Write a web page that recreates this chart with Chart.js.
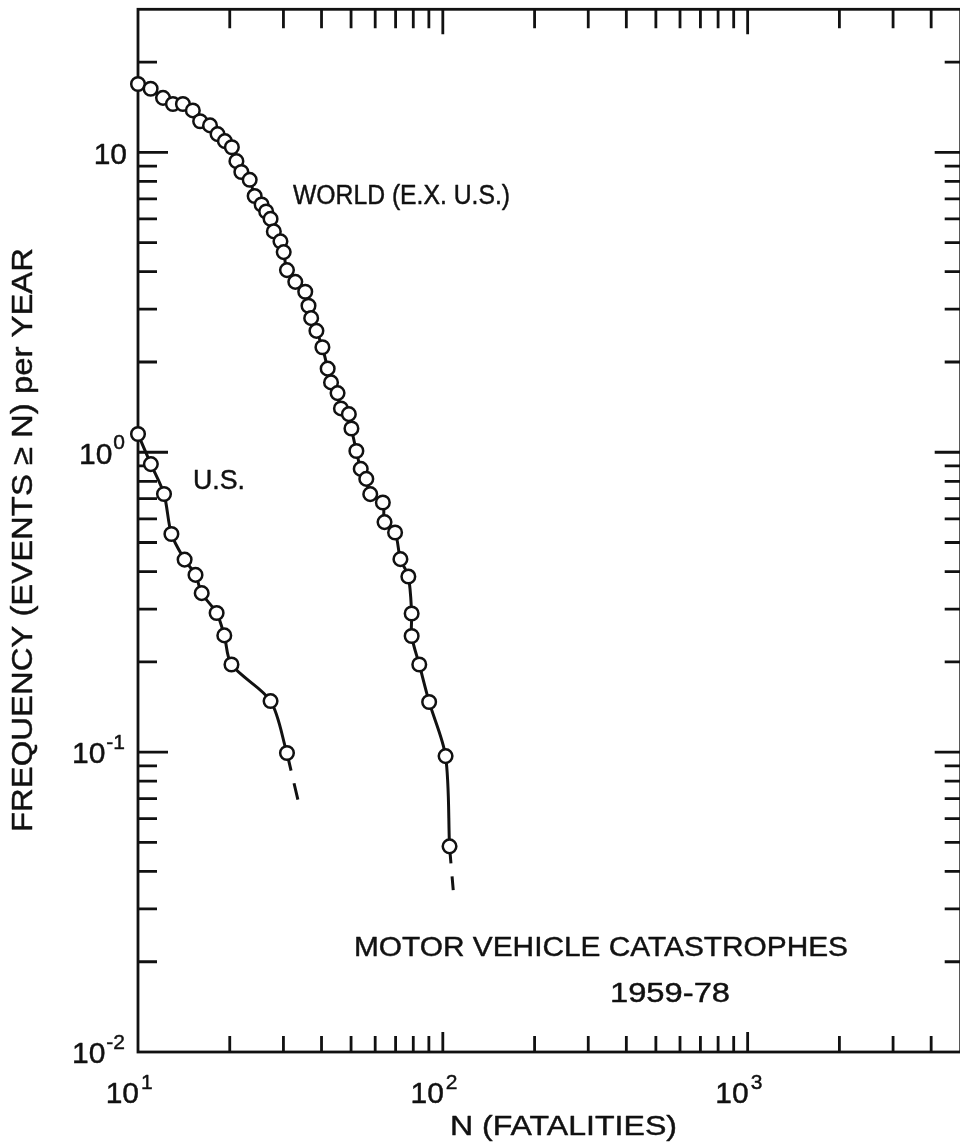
<!DOCTYPE html>
<html>
<head>
<meta charset="utf-8">
<script src="https://cdn.jsdelivr.net/npm/chart.js@4"></script>
<style>
  html, body { margin: 0; padding: 0; background: #fff; }
  #wrap { width: 960px; height: 1148px; overflow: hidden; }
  canvas { display: block; }
</style>
</head>
<body>
<div id="wrap"><canvas id="myChart" width="970" height="1148"></canvas></div>
<script>
// world (excluding U.S.), N fatalities and frequency per year
const worldN = [10, 11.0, 12.08, 13.02, 14.04, 15.13, 15.99, 17.23, 18.24, 19.28, 20.32, 21.03, 21.83, 23.25, 24.14, 25.44, 26.33, 27.22, 27.90, 29.33,
  30.06, 30.81, 32.81, 35.37, 36.25, 36.99, 38.49, 40.27, 41.90, 42.98, 45.15, 46.32, 49.17, 50.14, 52.05, 53.79, 56.10, 57.80, 63.57, 64.38,
  69.72, 72.59, 77.07, 79.02, 79.02, 83.70, 90.18, 102.1, 105.2];
const worldFreq = [16.9, 16.3, 15.2, 14.5, 14.5, 13.8, 12.7, 12.3, 11.5, 10.9, 10.4, 9.35, 8.6, 8.1, 7.15, 6.7, 6.35, 6.0, 5.45, 5.05,
  4.65, 4.05, 3.7, 3.43, 3.08, 2.8, 2.54, 2.24, 1.9, 1.71, 1.575, 1.40, 1.34, 1.20, 1.01, 0.88, 0.815, 0.725, 0.68, 0.585,
  0.54, 0.44, 0.385, 0.29, 0.244, 0.196, 0.147, 0.097, 0.0485];
const worldTailN = [105.2, 108.2];
const worldTailFreq = [0.0485, 0.0346];

// U.S.
const usN = [10, 11.02, 12.17, 12.87, 14.22, 15.44, 16.18, 18.11, 19.19, 20.26, 27.22, 30.81];
const usFreq = [1.15, 0.913, 0.726, 0.534, 0.4385, 0.39, 0.339, 0.291, 0.245, 0.196, 0.148, 0.0993];
const usTailN = [30.81, 33.46];
const usTailFreq = [0.0993, 0.0694];

// tick labels
const xTickValues = [10, 100, 1000];
const xTickExps = ['1', '2', '3'];
const yTickValues = [10, 1, 0.1, 0.01];
const yTickExps = ['', '0', '-1', '-2'];

const FONT = '"Liberation Sans", Arial, sans-serif';
const INK = '#111';

function pts(xs, ys) {
  return xs.map((x, i) => ({ x: x, y: ys[i] }));
}

function curve(xs, ys) {
  return {
    data: pts(xs, ys),
    showLine: true,
    borderColor: INK,
    borderWidth: 3,
    tension: 0.3,
    pointRadius: 6.8,
    pointBorderWidth: 2.5,
    pointBackgroundColor: '#fff',
    pointBorderColor: INK,
    clip: false,
    order: 1
  };
}

function tail(xs, ys, dash) {
  return {
    data: pts(xs, ys),
    showLine: true,
    borderColor: INK,
    borderWidth: 3,
    borderDash: dash,
    tension: 0,
    pointRadius: 0,
    clip: false,
    order: 2
  };
}

// minor + major ticks of a log axis
function logTicks(min, max) {
  const out = [];
  for (let k = Math.floor(Math.log10(min)); k <= Math.ceil(Math.log10(max)); k++) {
    for (let m = 1; m <= 9; m++) {
      const v = m * Math.pow(10, k);
      if (v >= min * 0.999 && v <= max * 1.001) out.push({ v: v, major: m === 1 });
    }
  }
  return out;
}

const framePlugin = {
  id: 'frame',
  beforeDatasetsDraw(chart) {
    const c = chart.ctx, a = chart.chartArea;
    const xs = chart.scales.x, ys = chart.scales.y;
    c.save();
    c.strokeStyle = INK;
    c.lineWidth = 2.8;
    c.strokeRect(a.left, a.top, a.right - a.left, a.bottom - a.top);
    c.beginPath();
    logTicks(xs.min, xs.max).forEach(t => {
      const px = xs.getPixelForValue(t.v);
      if (px < a.left + 2 || px > a.right - 2) return;
      c.moveTo(px, a.bottom); c.lineTo(px, a.bottom - (t.major ? 20 : 16));
      c.moveTo(px, a.top); c.lineTo(px, a.top + (t.major ? 25 : 19));
    });
    logTicks(ys.min, ys.max).forEach(t => {
      const py = ys.getPixelForValue(t.v);
      if (py < a.top + 2 || py > a.bottom - 2) return;
      c.moveTo(a.left, py); c.lineTo(a.left + (t.major ? 30 : 19), py);
      c.moveTo(a.right, py); c.lineTo(a.right - (t.major ? 26 : 16), py);
    });
    c.stroke();
    c.restore();
  }
};

// text with a thin outline, like the heavier hand lettering
function ink(c, text, x, y) {
  c.fillText(text, x, y);
  c.strokeText(text, x, y);
}

// draw text squeezed/stretched to a given width, left edge at x
function fitText(c, text, x, y, w) {
  const m = c.measureText(text).width;
  c.save();
  c.translate(x, y);
  c.scale(w / m, 1);
  c.textAlign = 'left';
  ink(c, text, 0, 0);
  c.restore();
}

const notes = [
  { text: 'WORLD (E.X. U.S.)', x: 293, y: 197, w: 217, size: 27 },
  { text: 'U.S.', x: 193, y: 482, w: 52, size: 27 },
  { text: 'MOTOR VEHICLE CATASTROPHES', x: 354, y: 948, w: 494, size: 28 },
  { text: '1959-78', x: 610, y: 994, w: 120, size: 28 },
  { text: 'N (FATALITIES)', x: 450, y: 1127, w: 227, size: 28 }
];

const textPlugin = {
  id: 'texts',
  afterDraw(chart) {
    const c = chart.ctx, a = chart.chartArea;
    const xs = chart.scales.x, ys = chart.scales.y;
    c.save();
    c.fillStyle = INK;
    c.strokeStyle = INK;
    c.lineWidth = 0.45;
    c.lineJoin = 'round';
    c.textBaseline = 'middle';

    notes.forEach(n => {
      c.font = n.size + 'px ' + FONT;
      fitText(c, n.text, n.x, n.y, n.w);
    });

    // y axis title
    c.font = '30px ' + FONT;
    const yt = 'FREQUENCY (EVENTS \u2265 N) per YEAR';
    c.save();
    c.translate(24, 540);
    c.rotate(-Math.PI / 2);
    fitText(c, yt, -292, 0, 584);
    c.restore();

    // y tick labels
    yTickValues.forEach((v, i) => {
      const py = ys.getPixelForValue(v);
      const exp = yTickExps[i];
      c.font = '21px ' + FONT;
      const sw = exp ? c.measureText(exp).width + 1 : 0;
      const right = exp ? 125 : 127;
      c.font = '30px ' + FONT;
      c.textAlign = 'right';
      ink(c, '10', right - sw, py + 3);
      if (exp) {
        c.font = '21px ' + FONT;
        c.textAlign = 'left';
        ink(c, exp, right - sw + 1, py - 9);
      }
    });

    // x tick labels
    xTickValues.forEach((v, i) => {
      const px = xs.getPixelForValue(v);
      c.font = '30px ' + FONT;
      c.textAlign = 'right';
      ink(c, '10', px + 1, a.bottom + 43);
      c.font = '21px ' + FONT;
      c.textAlign = 'left';
      ink(c, xTickExps[i], px + 3, a.bottom + 31);
    });
    c.restore();
  }
};

const ctx = document.getElementById('myChart').getContext('2d');
const myChart = new Chart(ctx, {
  type: 'scatter',
  data: {
    datasets: [
      curve(worldN, worldFreq),
      curve(usN, usFreq),
      tail(worldTailN, worldTailFreq, [17, 13, 14, 100]),
      tail(usTailN, usTailFreq, [18, 13, 17, 100])
    ]
  },
  options: {
    responsive: false,
    animation: false,
    layout: { padding: { left: 138, top: 8, right: 2, bottom: 96 } },
    scales: {
      x: { type: 'logarithmic', min: 10, max: 5000, display: false },
      y: { type: 'logarithmic', min: 0.01, max: 30, display: false }
    },
    plugins: {
      legend: { display: false },
      tooltip: { enabled: false }
    }
  },
  plugins: [framePlugin, textPlugin]
});
</script>
</body>
</html>
